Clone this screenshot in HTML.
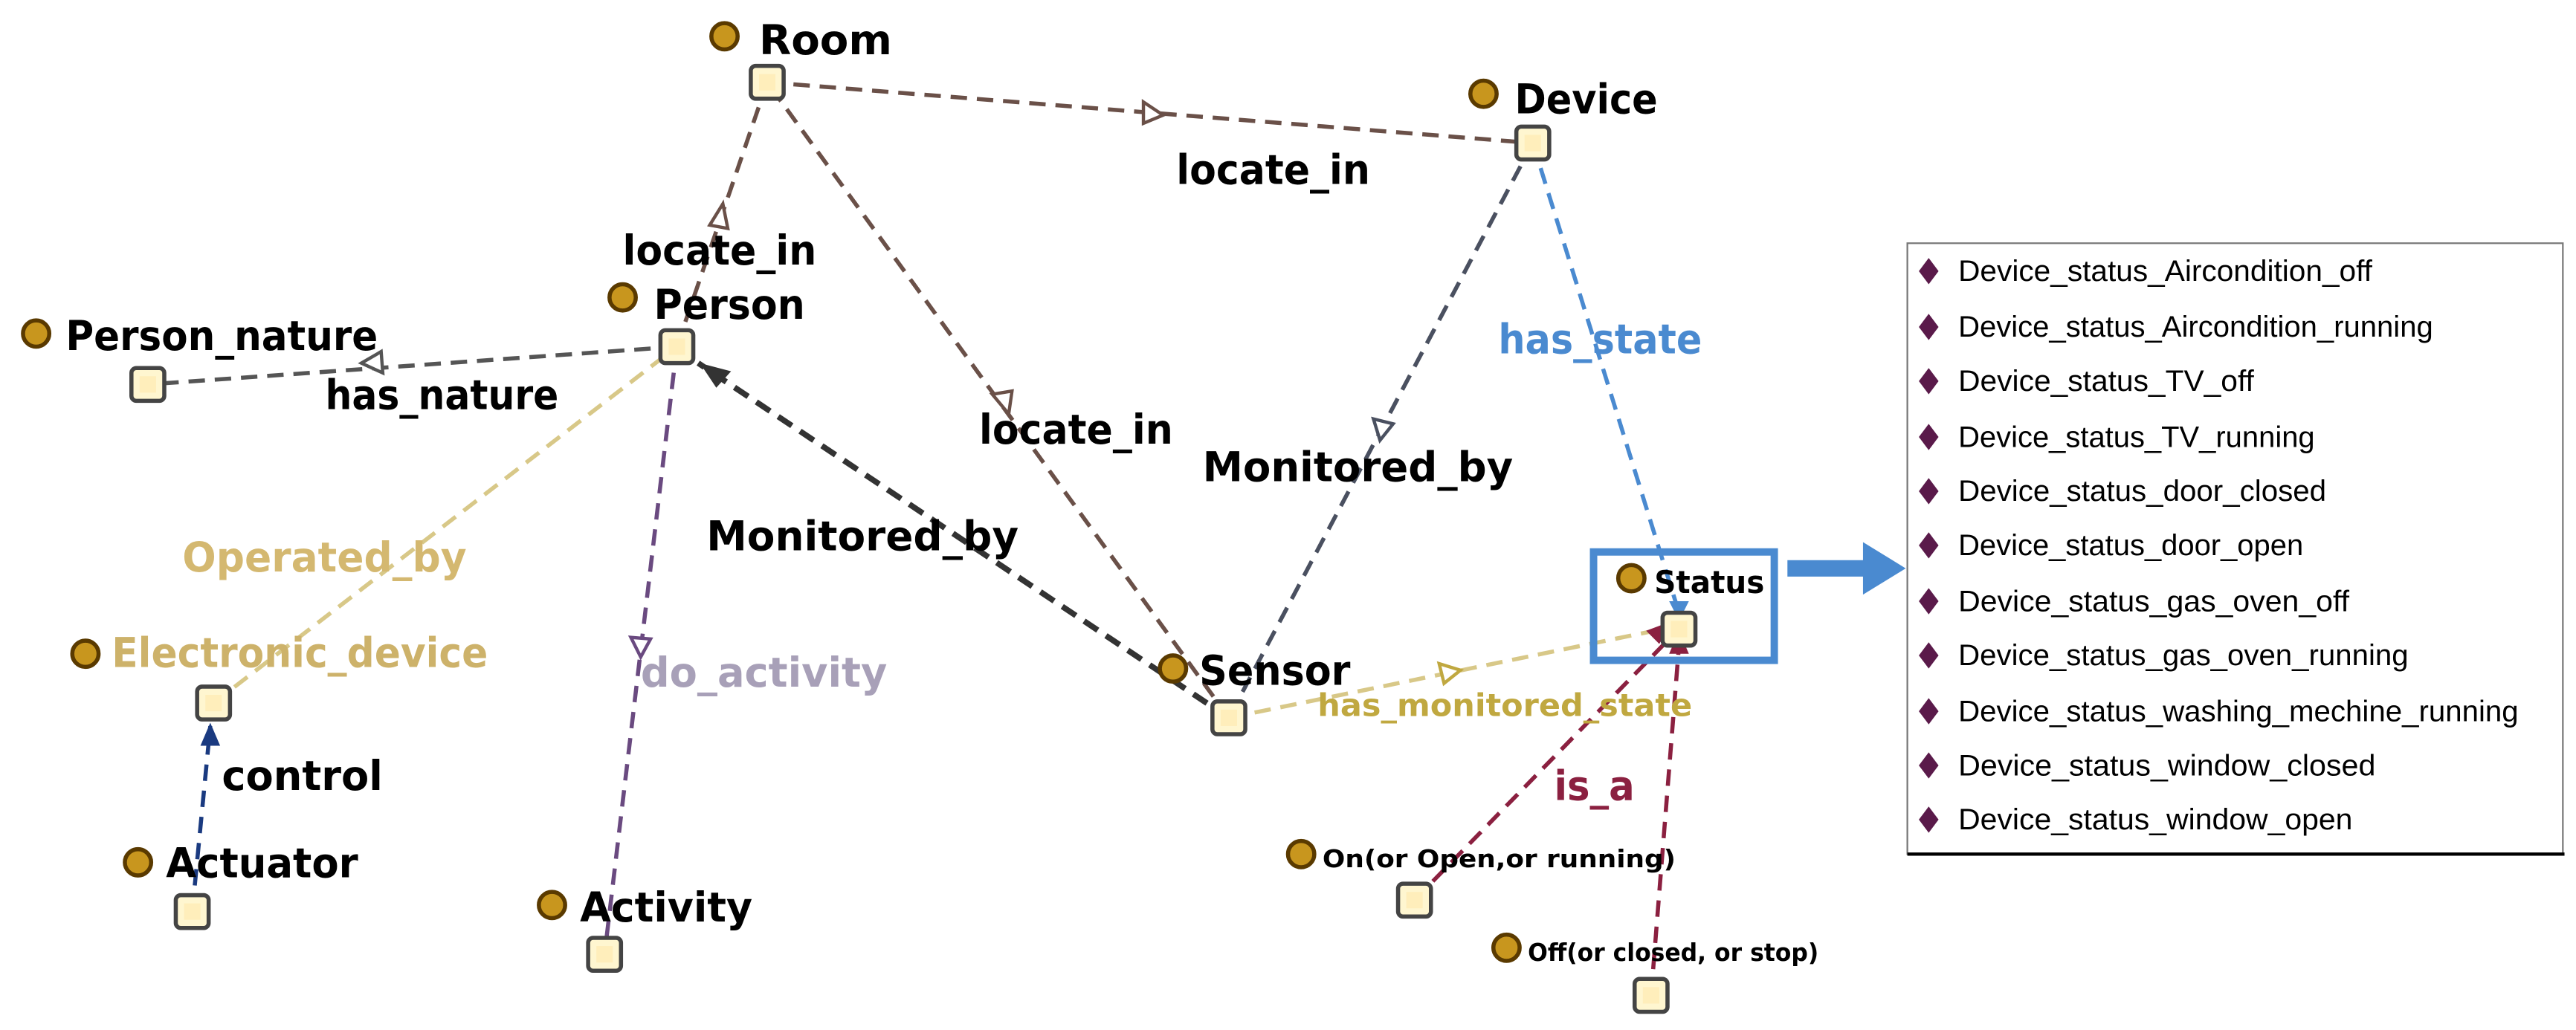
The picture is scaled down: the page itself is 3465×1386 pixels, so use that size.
<!DOCTYPE html>
<html><head><meta charset="utf-8"><style>
html,body{margin:0;padding:0;background:#fff;}
svg{display:block;}
text{font-family:"DejaVu Sans","Liberation Sans",sans-serif;}
.b{font-weight:bold;font-size:25px;fill:#000;}
.li{font-size:18px;fill:#000;font-family:"Liberation Sans Narrow","Liberation Sans",sans-serif;}
</style></head><body>
<svg width="3465" height="1386" viewBox="0 0 1568 627" xmlns="http://www.w3.org/2000/svg">
<defs>
<g id="box"><rect x="-10" y="-10" width="20" height="20" rx="3" fill="#fff6d0" stroke="#444" stroke-width="2.5"/><rect x="-5" y="-5" width="10" height="10" fill="#ffeebb"/></g>
<g id="dot"><circle r="8" fill="#c8961e" stroke="#5a3a00" stroke-width="2.5"/></g>
<g id="dia"><polygon points="0,-8 6,0 0,8 -6,0" fill="#5a1a4a"/></g>
</defs>
<g fill="none" stroke-width="2.5" stroke-dasharray="10,6">
<line x1="467" y1="50" x2="933" y2="87" stroke="#6a5048"/>
<line x1="412" y1="211" x2="467" y2="50" stroke="#6a5048"/>
<line x1="748" y1="437" x2="467" y2="50" stroke="#6a5048"/>
<line x1="412" y1="211" x2="90" y2="234" stroke="#555"/>
<line x1="130" y1="428" x2="412" y2="211" stroke="#d8c888"/>
<line x1="412" y1="211" x2="368" y2="581" stroke="#6a4a80"/>
<line x1="748" y1="437" x2="425" y2="221" stroke="#333" stroke-width="3.5"/>
<line x1="933" y1="87" x2="748" y2="437" stroke="#4a5060"/>
<line x1="933" y1="87" x2="1022" y2="373" stroke="#4a8ad0"/>
<line x1="748" y1="437" x2="1012" y2="383" stroke="#d8c888"/>
<line x1="861" y1="548" x2="1015" y2="390" stroke="#8b2040"/>
<line x1="1005" y1="606" x2="1022" y2="393" stroke="#8b2040"/>
<line x1="117" y1="555" x2="128" y2="442" stroke="#1a3a80"/>
</g>
<g fill="#fff" stroke-width="2">
<polygon points="708,70 696,62 696,75" stroke="#6a5048"/>
<polygon points="440,124 432,137 443,139" stroke="#6a5048"/>
<polygon points="614,252 604,240 616,238" stroke="#6a5048"/>
<polygon points="220,221 232,214 233,227" stroke="#555"/>
<polygon points="390,400 384,388 396,389" stroke="#6a4a80"/>
<polygon points="840,268 836,255 848,258" stroke="#4a5060"/>
<polygon points="889,408 876,404 879,416" stroke="#c0a840"/>
</g>
<polygon points="426,221 445,226 436,236" fill="#333"/>
<polygon points="1018,378 1010,392 1002,384" fill="#8b2040"/>
<polygon points="1022,384 1016,398 1028,398" fill="#8b2040"/>
<polygon points="128,440 122,454 134,454" fill="#1a3a80"/>
<polygon points="1022,378 1016,366 1028,366" fill="#4a8ad0"/>
<rect x="970" y="336" width="110" height="66" fill="none" stroke="#4a8ad0" stroke-width="4.5"/>
<rect x="1088" y="341" width="48" height="10" fill="#4a8ad0"/>
<polygon points="1134,330 1160,346 1134,362" fill="#4a8ad0"/>
<use href="#box" x="467" y="50"/><use href="#dot" x="441" y="22"/><text class="b" x="462" y="33" textLength="81" lengthAdjust="spacingAndGlyphs">Room</text>
<use href="#box" x="933" y="87"/><use href="#dot" x="903" y="57"/><text class="b" x="922" y="69" textLength="87" lengthAdjust="spacingAndGlyphs">Device</text>
<use href="#box" x="412" y="211"/><use href="#dot" x="379" y="181"/><text class="b" x="398" y="194" textLength="92" lengthAdjust="spacingAndGlyphs">Person</text>
<use href="#box" x="90" y="234"/><use href="#dot" x="22" y="203"/><text class="b" x="40" y="213" textLength="190" lengthAdjust="spacingAndGlyphs">Person_nature</text>
<use href="#box" x="130" y="428"/><use href="#dot" x="52" y="398"/><text class="b" x="68" y="406" textLength="229" lengthAdjust="spacingAndGlyphs" style="fill:#cdb26a">Electronic_device</text>
<use href="#box" x="117" y="555"/><use href="#dot" x="84" y="525"/><text class="b" x="101" y="534" textLength="117" lengthAdjust="spacingAndGlyphs">Actuator</text>
<use href="#box" x="368" y="581"/><use href="#dot" x="336" y="551"/><text class="b" x="353" y="561" textLength="105" lengthAdjust="spacingAndGlyphs">Activity</text>
<use href="#box" x="748" y="437"/><use href="#dot" x="714" y="407"/><text class="b" x="730" y="417" textLength="92" lengthAdjust="spacingAndGlyphs">Sensor</text>
<use href="#box" x="1022" y="383"/><use href="#dot" x="993" y="352"/><text class="b" x="1007" y="361" textLength="67" lengthAdjust="spacingAndGlyphs" style="font-size:19px">Status</text>
<use href="#box" x="861" y="548"/><use href="#dot" x="792" y="520"/><text x="805" y="528" textLength="215" lengthAdjust="spacingAndGlyphs" style="font-size:15px;font-weight:bold">On(or Open,or running)</text>
<use href="#box" x="1005" y="606"/><use href="#dot" x="917" y="577"/><text x="930" y="585" textLength="177" lengthAdjust="spacingAndGlyphs" style="font-size:15px;font-weight:bold">Off(or closed, or stop)</text>
<text class="b" x="716" y="112" textLength="118" lengthAdjust="spacingAndGlyphs">locate_in</text>
<text class="b" x="379" y="161" textLength="118" lengthAdjust="spacingAndGlyphs">locate_in</text>
<text class="b" x="596" y="270" textLength="118" lengthAdjust="spacingAndGlyphs">locate_in</text>
<text class="b" x="198" y="249" textLength="142" lengthAdjust="spacingAndGlyphs">has_nature</text>
<text class="b" x="111" y="348" textLength="173" lengthAdjust="spacingAndGlyphs" style="fill:#d4b870">Operated_by</text>
<text class="b" x="390" y="418" textLength="150" lengthAdjust="spacingAndGlyphs" style="fill:#a8a0b8">do_activity</text>
<text class="b" x="430" y="335" textLength="190" lengthAdjust="spacingAndGlyphs">Monitored_by</text>
<text class="b" x="732" y="293" textLength="189" lengthAdjust="spacingAndGlyphs">Monitored_by</text>
<text class="b" x="912" y="215" textLength="124" lengthAdjust="spacingAndGlyphs" style="fill:#4a8ad0">has_state</text>
<text x="802" y="436" textLength="228" lengthAdjust="spacingAndGlyphs" style="font-size:19px;font-weight:bold;fill:#c0a840">has_monitored_state</text>
<text class="b" x="946" y="487" textLength="49" lengthAdjust="spacingAndGlyphs" style="fill:#8b2040">is_a</text>
<text class="b" x="135" y="481" textLength="98" lengthAdjust="spacingAndGlyphs">control</text>
<rect x="1161" y="148" width="399" height="372" fill="#fff" stroke="#777" stroke-width="1"/>
<line x1="1161" y1="520" x2="1561" y2="520" stroke="#000" stroke-width="2"/>
<g>
<use href="#dia" x="1174" y="165"/><text class="li" x="1192" y="171" textLength="252" lengthAdjust="spacingAndGlyphs">Device_status_Aircondition_off</text>
<use href="#dia" x="1174" y="199"/><text class="li" x="1192" y="205" textLength="289" lengthAdjust="spacingAndGlyphs">Device_status_Aircondition_running</text>
<use href="#dia" x="1174" y="232"/><text class="li" x="1192" y="238" textLength="180" lengthAdjust="spacingAndGlyphs">Device_status_TV_off</text>
<use href="#dia" x="1174" y="266"/><text class="li" x="1192" y="272" textLength="217" lengthAdjust="spacingAndGlyphs">Device_status_TV_running</text>
<use href="#dia" x="1174" y="299"/><text class="li" x="1192" y="305" textLength="224" lengthAdjust="spacingAndGlyphs">Device_status_door_closed</text>
<use href="#dia" x="1174" y="332"/><text class="li" x="1192" y="338" textLength="210" lengthAdjust="spacingAndGlyphs">Device_status_door_open</text>
<use href="#dia" x="1174" y="366"/><text class="li" x="1192" y="372" textLength="238" lengthAdjust="spacingAndGlyphs">Device_status_gas_oven_off</text>
<use href="#dia" x="1174" y="399"/><text class="li" x="1192" y="405" textLength="274" lengthAdjust="spacingAndGlyphs">Device_status_gas_oven_running</text>
<use href="#dia" x="1174" y="433"/><text class="li" x="1192" y="439" textLength="341" lengthAdjust="spacingAndGlyphs">Device_status_washing_mechine_running</text>
<use href="#dia" x="1174" y="466"/><text class="li" x="1192" y="472" textLength="254" lengthAdjust="spacingAndGlyphs">Device_status_window_closed</text>
<use href="#dia" x="1174" y="499"/><text class="li" x="1192" y="505" textLength="240" lengthAdjust="spacingAndGlyphs">Device_status_window_open</text>
</g>
</svg>
</body></html>
